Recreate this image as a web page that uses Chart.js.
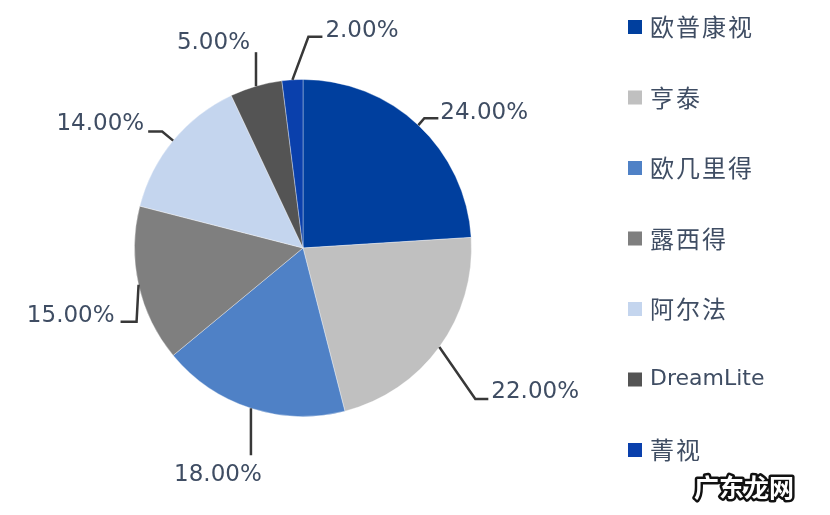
<!DOCTYPE html>
<html>
<head>
<meta charset="utf-8">
<script src="https://cdn.jsdelivr.net/npm/chart.js@4"></script>
<style>
  html, body { margin: 0; padding: 0; background: #fff; }
  #wrap { width: 830px; height: 515px; }
</style>
</head>
<body>
<div id="wrap"><canvas id="myChart" width="830" height="515"></canvas></div>
<script>
const brands = ['欧普康视', '亨泰', '欧几里得', '露西得', '阿尔法', 'DreamLite', '菁视']
const shares = [24, 22, 18, 15, 14, 5, 2]
const colors = ['#003f9e', '#c0c0c0', '#4f81c6', '#7f7f7f', '#c4d5ee', '#545454', '#0a40ac']

// leader line shape per slice: elbow + end offsets from the arc point, text side
const leaders = [
  { elbow: [6, -7], end: [20, -7], align: 'left', tx: 2, ty: -5 },
  { elbow: [36, 52], end: [49, 52], align: 'left', tx: 3, ty: -7 },
  { elbow: [0, 47], end: [0, 47], align: 'center', tx: -33, ty: 20 },
  { elbow: [-2, 37], end: [-18, 37], align: 'right', tx: -6, ty: -6 },
  { elbow: [-11, -9], end: [-25, -9], align: 'right', tx: -4, ty: -8 },
  { elbow: [0, -34], end: [0, -34], align: 'right', tx: -6, ty: -9 },
  { elbow: [16, -43], end: [30, -43], align: 'left', tx: 3, ty: -6 }
]

const textColor = '#3f4d63'

const labelPlugin = {
  id: 'labelPlugin',
  afterDraw(chart) {
    const ctx = chart.ctx
    const arcs = chart.getDatasetMeta(0).data
    ctx.save()
    arcs.forEach((arc, i) => {
      const mid = (arc.startAngle + arc.endAngle) / 2
      const x0 = arc.x + Math.cos(mid) * arc.outerRadius
      const y0 = arc.y + Math.sin(mid) * arc.outerRadius
      const l = leaders[i]
      ctx.strokeStyle = '#383838'
      ctx.lineWidth = 2.5
      ctx.beginPath()
      ctx.moveTo(x0, y0)
      ctx.lineTo(x0 + l.elbow[0], y0 + l.elbow[1])
      ctx.lineTo(x0 + l.end[0], y0 + l.end[1])
      ctx.stroke()
      ctx.fillStyle = textColor
      ctx.font = '23px "DejaVu Sans"'
      ctx.textAlign = l.align
      ctx.textBaseline = 'middle'
      ctx.fillText(shares[i].toFixed(2) + '%', x0 + l.end[0] + l.tx, y0 + l.end[1] + l.ty)
    })

    // legend
    ctx.textAlign = 'left'
    ctx.textBaseline = 'middle'
    brands.forEach((b, i) => {
      const y = 27 + i * 70.5
      ctx.fillStyle = colors[i]
      ctx.fillRect(628, y - 7, 14, 14)
      ctx.fillStyle = textColor
      ctx.font = /[A-Za-z]/.test(b) ? '22px "DejaVu Sans"' : '24px "Noto Sans CJK SC"'
      if (!/[A-Za-z]/.test(b)) ctx.letterSpacing = '2px'
      else ctx.letterSpacing = '0px'
      ctx.fillText(b, 650, y)
    })
    ctx.letterSpacing = '0px'

    // watermark
    ctx.font = 'bold 25px "Noto Sans CJK SC"'
    ctx.textAlign = 'center'
    ctx.lineWidth = 5
    ctx.strokeStyle = '#111'
    ctx.lineJoin = 'round'
    ctx.strokeText('广东龙网', 744, 487)
    ctx.fillStyle = '#fff'
    ctx.fillText('广东龙网', 744, 487)
    ctx.restore()
  }
}

const ctx = document.getElementById('myChart').getContext('2d')
const myChart = new Chart(ctx, {
  type: 'pie',
  data: {
    labels: brands,
    datasets: [
      {
        data: shares,
        backgroundColor: colors,
        borderColor: 'rgba(255,255,255,0.35)',
        borderWidth: 1
      }
    ]
  },
  options: {
    responsive: false,
    animation: false,
    layout: {
      padding: { left: 134, right: 358, top: 79, bottom: 98 }
    },
    plugins: {
      legend: { display: false },
      tooltip: { enabled: false }
    }
  },
  plugins: [labelPlugin]
})
</script>
</body>
</html>
